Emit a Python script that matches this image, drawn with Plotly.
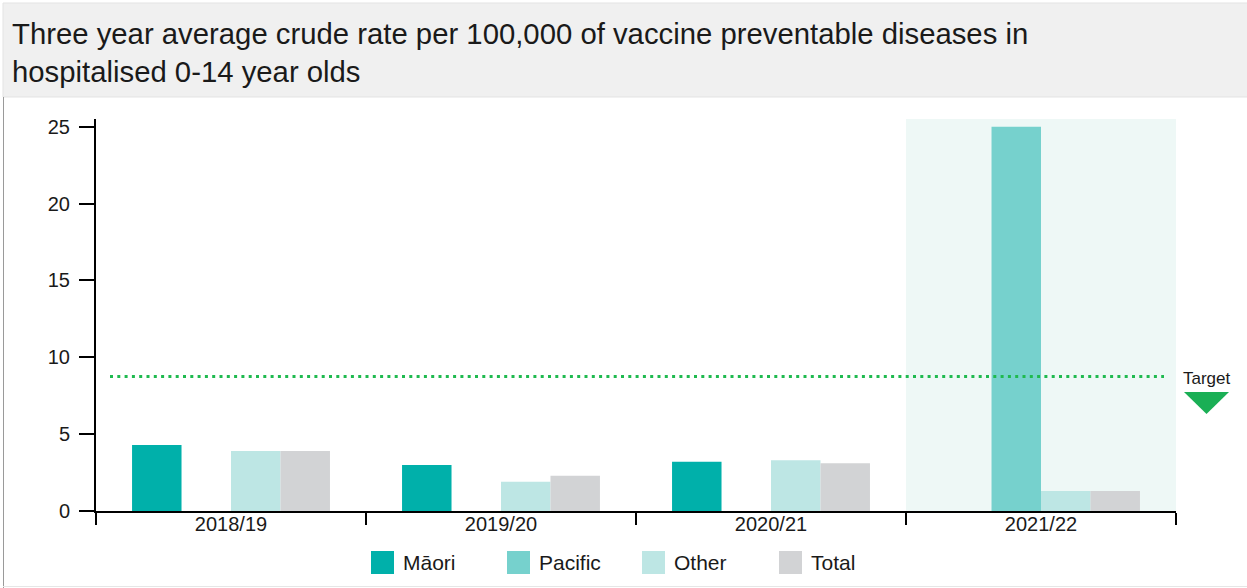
import plotly.graph_objects as go

# ---- data -------------------------------------------------------------
years = ["2018/19", "2019/20", "2020/21", "2021/22"]
series_names = ["Māori", "Pacific", "Other", "Total"]
maori = [4.3, 3.0, 3.2, None]
pacific = [None, None, None, 25.0]
other = [3.9, 1.9, 3.3, 1.3]
total = [3.9, 2.3, 3.1, 1.3]
target = 8.75
y_ticks = [0, 5, 10, 15, 20, 25]
highlight_year = "2021/22"

series_values = [maori, pacific, other, total]
series_colors = ["#00b0aa", "#76d1cd", "#bde6e4", "#d2d3d5"]

# ---- geometry of the page --------------------------------------------
W_PAGE, H_PAGE = 1247, 588
M_L, M_R, M_T, M_B = 96, 71, 119, 77
PLOT_W = W_PAGE - M_L - M_R
PLOT_H = H_PAGE - M_T - M_B


def px_x(px):
    """page pixel x -> paper x"""
    return (px - M_L) / PLOT_W


def px_y(py):
    """page pixel y -> paper y"""
    return (H_PAGE - M_B - py) / PLOT_H


FONT = "Liberation Sans, Arial, Helvetica, sans-serif"
TEXT = "#1a1a1a"

fig = go.Figure()
for name, vals, col in zip(series_names, series_values, series_colors):
    fig.add_trace(go.Bar(
        x=years, y=vals, name=name, marker_color=col,
        marker_line_width=0, showlegend=False,
    ))

shapes = []
annotations = []

# title card
shapes.append(dict(type="rect", xref="paper", yref="paper", layer="below",
                   x0=px_x(3), x1=px_x(1250), y0=px_y(97), y1=px_y(3),
                   fillcolor="#f0f0f0", line=dict(color="#e3e3e3", width=1)))
shapes.append(dict(type="line", xref="paper", yref="paper",
                   x0=px_x(3.5), x1=px_x(3.5), y0=px_y(97), y1=px_y(590),
                   line=dict(color="#9a9a9a", width=1)))
shapes.append(dict(type="line", xref="paper", yref="paper",
                   x0=px_x(3), x1=px_x(1250), y0=px_y(586.5), y1=px_y(586.5),
                   line=dict(color="#e6e6e6", width=1)))
annotations.append(dict(
    text="Three year average crude rate per 100,000 of vaccine preventable diseases in"
         "<br>hospitalised 0-14 year olds",
    xref="paper", yref="paper", x=px_x(10), y=px_y(15),
    xanchor="left", yanchor="top", align="left", showarrow=False,
    font=dict(family=FONT, size=29.3, color=TEXT)))

# highlighted latest year
hi = years.index(highlight_year)
shapes.append(dict(type="rect", xref="x", yref="paper", layer="below",
                   x0=hi - 0.5, x1=hi + 0.5, y0=0, y1=1,
                   fillcolor="#eef8f6", line=dict(width=0)))

# target line and marker
shapes.append(dict(type="line", xref="paper", yref="y",
                   x0=px_x(110), x1=px_x(1164), y0=target, y1=target,
                   line=dict(color="#1fba4f", width=3, dash="3px,4.3px")))
shapes.append(dict(type="path", xref="paper", yref="y",
                   xsizemode="pixel", ysizemode="pixel",
                   xanchor=px_x(1206.5), yanchor=target,
                   path="M -22.5 -15.5 L 22.5 -15.5 L 0 -37.5 Z",
                   fillcolor="#1aaf55", line=dict(width=0)))
annotations.append(dict(
    text="Target", xref="paper", yref="y", x=px_x(1206.5), y=target,
    xanchor="center", yanchor="middle", yshift=-2, showarrow=False,
    font=dict(family=FONT, size=17, color=TEXT)))

# legend
legend_x = [371, 507, 642, 779]
for lx, name, col in zip(legend_x, series_names, series_colors):
    shapes.append(dict(type="rect", xref="paper", yref="paper",
                       x0=px_x(lx), x1=px_x(lx + 23), y0=px_y(574), y1=px_y(551),
                       fillcolor=col, line=dict(width=0)))
    annotations.append(dict(
        text=name, xref="paper", yref="paper", x=px_x(lx + 30), y=px_y(562.5),
        xanchor="left", yanchor="middle", showarrow=False,
        font=dict(family=FONT, size=21, color=TEXT)))

fig.update_layout(
    width=W_PAGE, height=H_PAGE,
    margin=dict(l=M_L, r=M_R, t=M_T, b=M_B, pad=0),
    paper_bgcolor="white", plot_bgcolor="rgba(0,0,0,0)",
    barmode="group", bargap=0.267, bargroupgap=0,
    font=dict(family=FONT, color=TEXT),
    shapes=shapes, annotations=annotations,
    showlegend=False,
)
fig.update_xaxes(
    type="category", range=[-0.5, len(years) - 0.5],
    showline=True, linecolor="black", linewidth=2,
    ticks="outside", tickson="boundaries", ticklen=12, tickwidth=2,
    tickcolor="black", showgrid=False, zeroline=False,
    tickfont=dict(family=FONT, size=20, color=TEXT),
    ticklabelstandoff=-6,
)
fig.update_yaxes(
    range=[0, 25.5], tickvals=y_ticks,
    showline=True, linecolor="black", linewidth=2,
    ticks="outside", ticklen=15, tickwidth=1.5, tickcolor="black",
    showgrid=False, zeroline=False,
    tickfont=dict(family=FONT, size=20, color=TEXT),
    ticklabelstandoff=5,
)

fig.write_html("out.html")
